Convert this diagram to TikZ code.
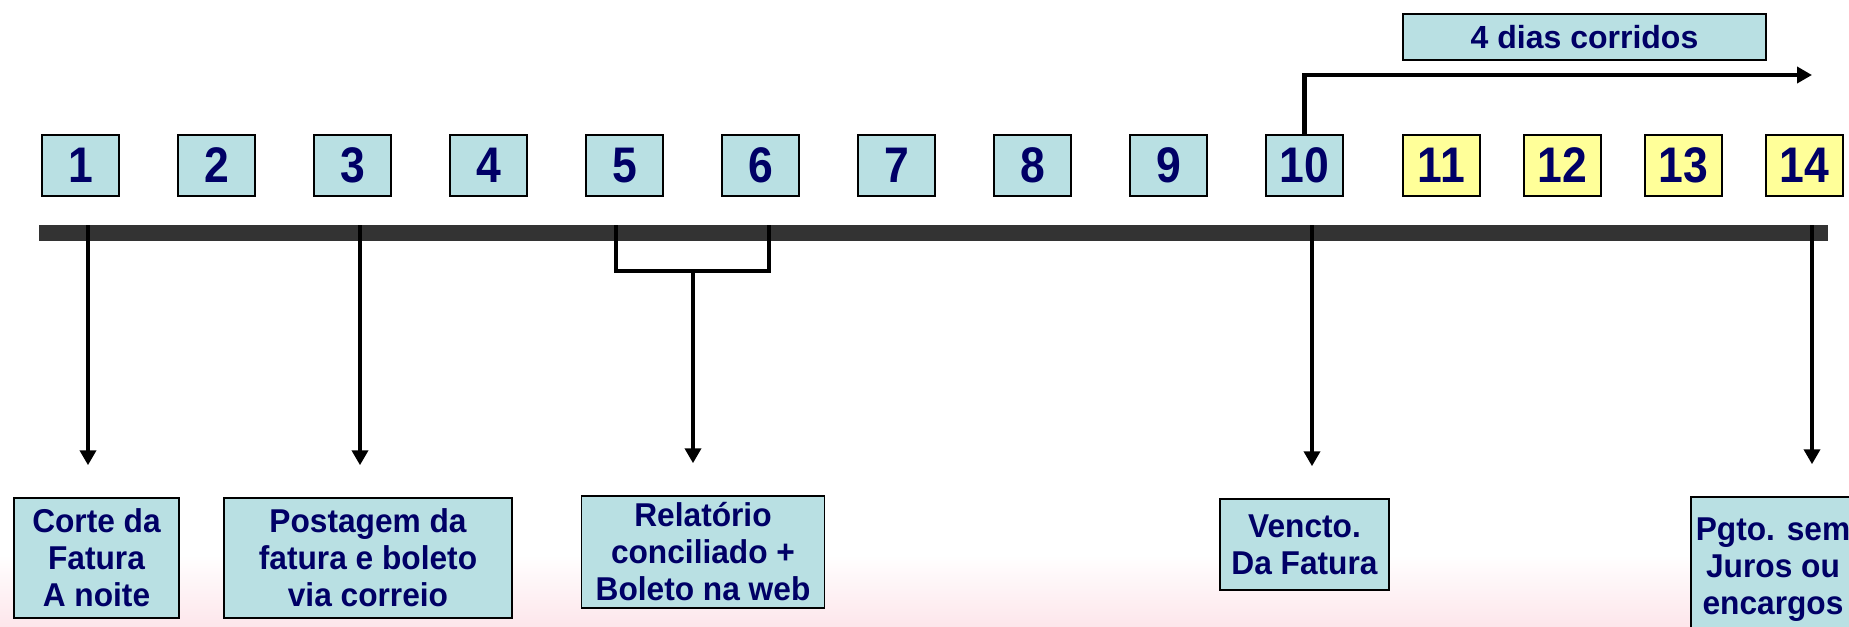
\documentclass[tikz,border=0pt]{standalone}
\usepackage{fontspec}
\setmainfont{Liberation Sans}
\newfontfamily\numeros{Liberation Sans}[FakeStretch=0.89]
\newfontfamily\estreita{Liberation Sans}[FakeStretch=0.96]
\usetikzlibrary{arrows.meta}
\definecolor{caixa}{RGB}{185,224,227}
\definecolor{amarelo}{RGB}{255,255,153}
\definecolor{texto}{RGB}{0,0,102}
\definecolor{barra}{RGB}{51,51,51}
\definecolor{rosa}{RGB}{253,230,235}
\tikzset{dia/.style={draw, line width=0.75pt, fill=caixa, text=texto, inner sep=0pt,
		font=\numeros\bfseries\fontsize{25}{26}\selectfont, minimum width=38.5pt, minimum height=30.5pt},
	fimsemana/.style={dia, fill=amarelo},
	evento/.style={draw, line width=0.75pt, fill=caixa, text=texto, align=center, inner sep=0pt,
		font=\estreita\bfseries\fontsize{16.5}{18.5}\selectfont},
	seta/.style={line width=2.25pt, -{Triangle[width=8pt,length=7.5pt]}},
	desce/.style={seta, shorten >=16pt},
	marca/.style={line width=2.25pt}}
\begin{document}
\begin{tikzpicture}[x=0.5pt,y=-0.5pt]
		\useasboundingbox (0,0) rectangle (1849,627);
		\clip (0,0) rectangle (1849,627);
		\shade[top color=white, bottom color=rosa] (0,555) rectangle (1849,627);
		% dias
		\foreach \n in {1,...,10}
			\node[dia] (d\n) at ({80.5+136*(\n-1)},165.5) {\n};
		\foreach \n in {11,...,14}
			\node[fimsemana] (d\n) at ({1441.5+121*(\n-11)},165.5) {\n};
		\node[evento, font=\bfseries\fontsize{16}{18}\selectfont, minimum width=181.5pt, minimum height=23pt] (prazo) at (1584.5,37) {4 dias corridos};
		\coordinate (fim) at (1812,75);
		\draw[seta] (d10.north) |- (fim);
		% linha do tempo
		\fill[barra] (39,225) rectangle (1828,241);
		\coordinate (t1) at (88,225);
		\coordinate (t3) at (360,225);
		\coordinate (c5) at (616,225);
		\coordinate (c6) at (769,225);
		\coordinate (cm) at (693,271);
		\coordinate (t10) at (1312,225);
		\coordinate (t14) at (1812,225);
		% eventos
		\node[evento, minimum width=82.5pt, minimum height=60pt] (corte) at (96.5,558) {Corte da\\Fatura\\A noite};
		\node[evento, minimum width=144pt, minimum height=60pt] (postagem) at (368,558) {Postagem da\\fatura e boleto\\via correio};
		\node[evento, minimum width=121.5pt, minimum height=56pt] (relat) at (703,552) {Relatório\\conciliado +\\Boleto na web};
		\node[evento, minimum width=84.5pt, minimum height=45.5pt] (vencto) at (1304.5,544.5) {Vencto.\\Da Fatura};
		\node[evento, minimum width=82pt, minimum height=73pt] (pgto) at (1773,570) {Pgto. sem\\Juros ou\\encargos};
		\draw[desce] (t1) -- (t1 |- corte.north);
		\draw[desce] (t3) -- (t3 |- postagem.north);
		\draw[marca] (c5) |- (cm) -| (c6);
		\draw[desce] (cm) -- (cm |- relat.north);
		\draw[desce] (t10) -- (t10 |- vencto.north);
		\draw[desce] (t14) -- (t14 |- pgto.north);
\end{tikzpicture}
\end{document}
